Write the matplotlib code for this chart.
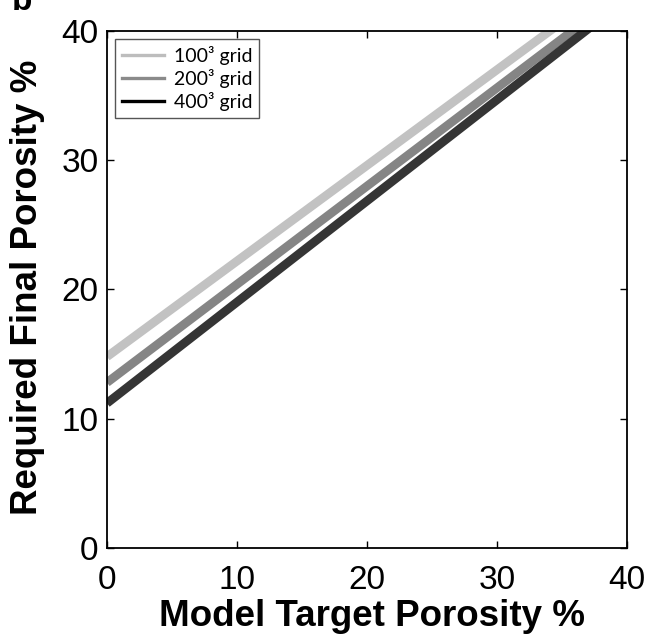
import numpy as np
import matplotlib
matplotlib.use("Agg")
import matplotlib.pyplot as plt
from matplotlib.lines import Line2D

# model target porosity (%) and required final porosity (%) per grid size
target = [0, 40]
req_100 = [14.8, 44.4]
req_200 = [12.8, 43.2]
req_400 = [11.2, 42.5]
labels = ["100³ grid", "200³ grid", "400³ grid"]
colors = ["#c2c2c2", "#858585", "#353535"]
legend_colors = ["#bdbdbd", "#8a8a8a", "#000000"]

fig = plt.figure(figsize=(6.46, 6.38), dpi=100)
ax = fig.add_axes([0.1656, 0.1411, 0.805, 0.8103])

for ys, c in zip([req_100, req_200, req_400], colors):
    ax.plot(target, ys, color=c, lw=6.3, solid_capstyle="butt")

ax.set_xlim(0, 40)
ax.set_ylim(0, 40)
ax.set_xticks([0, 10, 20, 30, 40])
ax.set_yticks([0, 10, 20, 30, 40])
ax.tick_params(direction="in", length=5, width=1, top=True, right=True,
               labelsize=24)
ax.tick_params(axis="x", pad=12)
ax.tick_params(axis="y", pad=6)
for lab in ax.get_xticklabels() + ax.get_yticklabels():
    lab.set_fontfamily("Liberation Sans")
for s in ax.spines.values():
    s.set_linewidth(1.3)

ax.set_xlabel("Model Target Porosity %", fontsize=26.5, fontweight="bold",
              family="Liberation Sans")
ax.xaxis.label.set_verticalalignment("baseline")
ax.xaxis.set_label_coords(0.51, -0.15)
ax.set_ylabel("Required Final Porosity %", fontsize=26.5, fontweight="bold",
              family="Liberation Sans")
ax.yaxis.set_label_coords(-0.119, 0.504)

handles = [Line2D([], [], color=c, lw=2.4) for c in legend_colors]
leg = ax.legend(handles, labels, loc="upper left", bbox_to_anchor=(0.015, 0.985),
                borderaxespad=0, prop={"family": "Lato", "size": 14},
                handlelength=2.2, handletextpad=0.5, labelspacing=0.22,
                borderpad=0.35, fancybox=False, framealpha=1)
leg.get_frame().set_edgecolor("#555555")
leg.get_frame().set_linewidth(1.0)

fig.text(0.034, 0.985, "b", fontsize=24, fontweight="bold",
         family="Liberation Sans", va="baseline", ha="center")

fig.savefig("out.png", dpi=100)
